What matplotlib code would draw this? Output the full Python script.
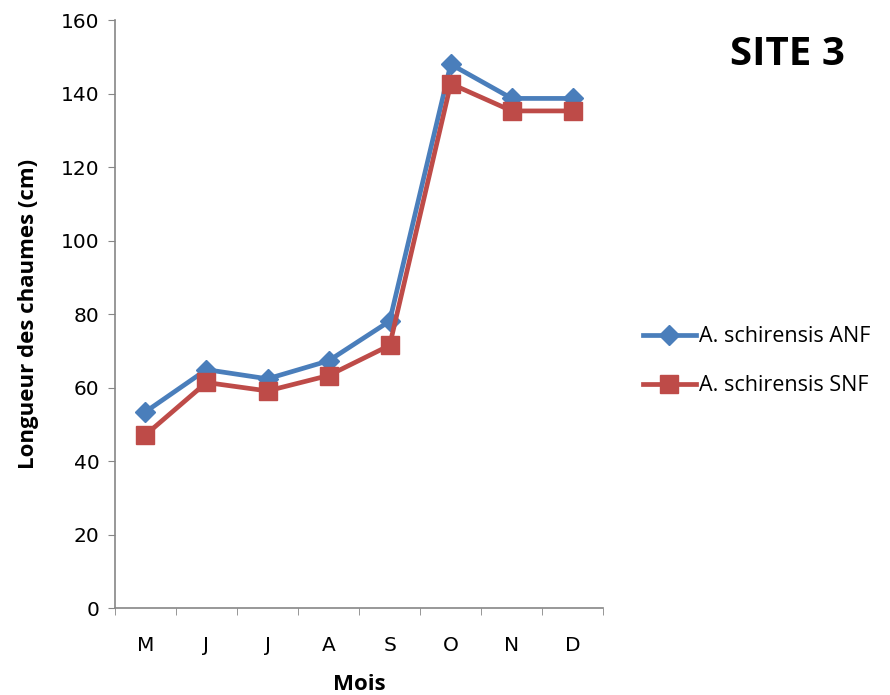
import matplotlib.pyplot as plt
import numpy as np

# Data
months = ["M", "J", "J", "A", "S", "O", "N", "D"]
anf = [53.4, 64.9, 62.4, 67.3, 78.1, 148.0, 138.7, 138.7]
snf = [47.1, 61.4, 59.1, 63.3, 71.5, 142.7, 135.3, 135.3]

fig = plt.figure(figsize=(8.9, 6.95), dpi=100)
ax = fig.add_axes([0.129, 0.125, 0.549, 0.846])

x = np.arange(len(months))
ax.plot(x, anf, color="#4A7EBB", linewidth=3.4, marker="D", markersize=10,
        label="A. schirensis ANF")
ax.plot(x, snf, color="#BE4B48", linewidth=3.4, marker="s", markersize=13,
        label="A. schirensis SNF")

ax.set_xlim(-0.5, len(months) - 0.5)
ax.set_ylim(0, 160)
ax.set_yticks(range(0, 161, 20))
ax.set_xticks(x)
ax.set_xticklabels(months)
ax.set_xticks(np.arange(-0.5, len(months), 1), minor=True)
ax.tick_params(axis="x", which="major", length=0, pad=20)
ax.tick_params(axis="x", which="minor", length=5, color="#868686", direction="out")
ax.tick_params(axis="y", length=5, color="#868686", direction="out", pad=6)
for lab in ax.get_xticklabels() + ax.get_yticklabels():
    lab.set_fontsize(14.5)
    lab.set_family("DejaVu Sans")

for side in ["top", "right"]:
    ax.spines[side].set_visible(False)
for side in ["left", "bottom"]:
    ax.spines[side].set_color("#868686")
    ax.spines[side].set_linewidth(1.2)

ax.set_xlabel("Mois", fontsize=16, fontweight="bold", family="Open Sans", labelpad=14)
ax.set_ylabel("Longueur des chaumes (cm)", fontsize=16, fontweight="bold",
              family="Open Sans", labelpad=16)

fig.text(0.885, 0.921, "SITE 3", fontsize=29, fontweight="bold", family="Open Sans",
         ha="center", va="center")

leg = fig.legend(loc="center left", bbox_to_anchor=(0.722, 0.48), frameon=False,
                 handlelength=2.5, labelspacing=1.3, handletextpad=0.1,
                 borderpad=0, borderaxespad=0,
                 prop={"family": "Open Sans", "size": 15.5})

fig.savefig("out.png", dpi=100)
